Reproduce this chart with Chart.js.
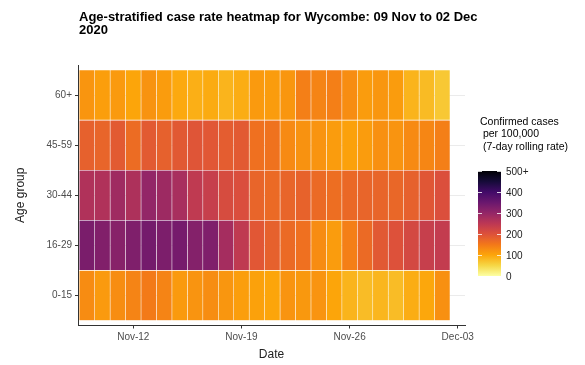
<!DOCTYPE html>
<html lang="en">
<head>
<meta charset="UTF-8">
<title>Age-stratified case rate heatmap for Wycombe</title>
<style>
    html, body { margin: 0; padding: 0; background: #fff; }
    #wrap { width: 585px; height: 365px; }
</style>
<script src="https://cdn.jsdelivr.net/npm/chart.js"></script>
</head>
<body>
<div id="wrap"><canvas id="heatmap" width="585" height="365"></canvas></div>
<script>
// ---- data ----
const dates = [
    '2020-11-09', '2020-11-10', '2020-11-11', '2020-11-12', '2020-11-13', '2020-11-14',
    '2020-11-15', '2020-11-16', '2020-11-17', '2020-11-18', '2020-11-19', '2020-11-20',
    '2020-11-21', '2020-11-22', '2020-11-23', '2020-11-24', '2020-11-25', '2020-11-26',
    '2020-11-27', '2020-11-28', '2020-11-29', '2020-11-30', '2020-12-01', '2020-12-02'
];
const ageGroups = ['0-15', '16-29', '30-44', '45-59', '60+'];

// 7-day rolling case rate per 100,000, one value per date
const rate0to15  = [128, 112, 127, 137, 148, 137, 112, 119, 127, 117, 108, 105, 100, 119, 115, 119, 100, 85, 77, 83, 77, 92, 98, 123];
const rate16to29 = [330, 322, 315, 325, 338, 328, 335, 318, 325, 278, 245, 192, 180, 168, 160, 128, 110, 142, 168, 190, 200, 215, 235, 240];
const rate30to44 = [265, 265, 285, 268, 300, 288, 275, 245, 235, 210, 205, 175, 168, 175, 178, 168, 163, 170, 175, 175, 172, 180, 193, 203];
const rate45to59 = [180, 175, 188, 165, 188, 180, 190, 195, 192, 185, 188, 160, 158, 130, 121, 119, 110, 105, 110, 123, 119, 130, 134, 142];
const rate60plus = [118, 108, 112, 100, 120, 110, 96, 90, 94, 85, 92, 112, 110, 117, 142, 137, 142, 127, 110, 117, 110, 85, 78, 65];
const ratesByGroup = [rate0to15, rate16to29, rate30to44, rate45to59, rate60plus];

const tickDates  = ['2020-11-12', '2020-11-19', '2020-11-26', '2020-12-03'];
const tickLabels = ['Nov-12', 'Nov-19', 'Nov-26', 'Dec-03'];
const legendBreaks = [0, 100, 200, 300, 400, 500];
const legendLabels = ['0', '100', '200', '300', '400', '500+'];
const rateMax = 500;

const titleLines = ['Age-stratified case rate heatmap for Wycombe: 09 Nov to 02 Dec', '2020'];
const legendTitle = ['Confirmed cases', ' per 100,000', ' (7-day rolling rate)'];

// ---- colours (inferno, reversed: low = yellow, high = black) ----
const inferno = ['#000004', '#160b39', '#420a68', '#6a176e', '#932667', '#bc3754',
                 '#dd513a', '#f37819', '#fca50a', '#f6d746', '#fcffa4'];

function hexToRgb(h) {
    return [parseInt(h.slice(1, 3), 16), parseInt(h.slice(3, 5), 16), parseInt(h.slice(5, 7), 16)];
}

function rateColour(v) {
    const t = 1 - Math.min(Math.max(v, 0), rateMax) / rateMax;
    const pos = t * (inferno.length - 1);
    const i = Math.min(Math.floor(pos), inferno.length - 2);
    const f = pos - i;
    const a = hexToRgb(inferno[i]), b = hexToRgb(inferno[i + 1]);
    const c = a.map((x, k) => Math.round(x + (b[k] - x) * f));
    return 'rgb(' + c.join(',') + ')';
}

function dayIndex(d) {
    return Math.round((Date.parse(d) - Date.parse(dates[0])) / 864e5);
}

const FONT = '"Liberation Sans", Arial, sans-serif';

// one floating-bar dataset per day, tiles across the age groups
const datasets = dates.map(d => {
    const i = dayIndex(d);
    return {
        data: ageGroups.map((g, j) => ({ x: [i - 0.5, i + 0.5], y: j, v: ratesByGroup[j][i] })),
        backgroundColor: ctx => rateColour(ctx.raw ? ctx.raw.v : 0),
        borderColor: 'rgba(255,255,255,0.28)',
        borderWidth: 0.6,
        borderSkipped: false,
        grouped: false,
        categoryPercentage: 1,
        barPercentage: 1
    };
});

// title drawn above the panel, left-aligned with the plot area
const titlePlugin = {
    id: 'heatTitle',
    afterDraw(chart) {
        const { ctx, chartArea } = chart;
        ctx.save();
        ctx.font = 'bold 13px ' + FONT;
        ctx.fillStyle = '#000';
        ctx.textBaseline = 'middle';
        titleLines.forEach((t, i) => ctx.fillText(t, chartArea.left + 1, 17 + i * 13));
        ctx.restore();
    }
};

// continuous colour bar legend
const colourBarPlugin = {
    id: 'colourBar',
    afterDraw(chart) {
        const { ctx, chartArea } = chart;
        const x0 = chartArea.right + 13, w = 23;
        const top = 171, bottom = 276;
        const yFor = v => bottom - (v / rateMax) * (bottom - top);
        ctx.save();

        ctx.font = '10.5px ' + FONT;
        ctx.fillStyle = '#000';
        ctx.textBaseline = 'middle';
        legendTitle.forEach((t, i) => ctx.fillText(t, x0 + 2, 122 + i * 12.5));

        const grad = ctx.createLinearGradient(0, bottom, 0, top);
        for (let k = 0; k <= 20; k++) grad.addColorStop(k / 20, rateColour(k / 20 * rateMax));
        ctx.fillStyle = grad;
        ctx.fillRect(x0, top, w, bottom - top);

        ctx.strokeStyle = 'rgba(255,255,255,0.8)';
        ctx.lineWidth = 1;
        ctx.font = '10px ' + FONT;
        ctx.fillStyle = '#222';
        legendBreaks.forEach((b, i) => {
            const y = Math.round(yFor(b)) + 0.5;
            ctx.beginPath();
            ctx.moveTo(x0, y); ctx.lineTo(x0 + 4, y);
            ctx.moveTo(x0 + w - 4, y); ctx.lineTo(x0 + w, y);
            ctx.stroke();
            ctx.fillText(legendLabels[i], x0 + 28, yFor(b) + 1.5);
        });
        ctx.restore();
    }
};

new Chart(document.getElementById('heatmap'), {
    type: 'bar',
    data: { datasets: datasets },
    options: {
        indexAxis: 'y',
        responsive: false,
        animation: false,
        layout: { padding: { top: 65, right: 120, left: 0, bottom: 0 } },
        plugins: {
            legend: { display: false },
            tooltip: { enabled: false },
            title: { display: false }
        },
        scales: {
            x: {
                type: 'linear',
                offset: false,
                min: -0.58,
                max: 24.47,
                afterBuildTicks: scale => {
                    scale.ticks = tickDates.map(d => ({ value: dayIndex(d) }));
                },
                afterFit: scale => { scale.height = 39.5; },
                ticks: {
                    callback: (v, i) => tickLabels[i],
                    color: '#4d4d4d',
                    font: { family: FONT, size: 10 },
                    padding: 3,
                    maxRotation: 0
                },
                grid: { drawOnChartArea: false, drawTicks: true, tickLength: 3, tickColor: '#333' },
                border: { display: true, color: '#333', width: 1 },
                title: {
                    display: true,
                    text: 'Date',
                    color: '#222',
                    font: { family: FONT, size: 12 },
                    padding: { top: 0, bottom: 3 }
                }
            },
            y: {
                type: 'linear',
                offset: false,
                min: -0.6,
                max: 4.6,
                afterBuildTicks: scale => {
                    scale.ticks = ageGroups.map((g, j) => ({ value: j }));
                },
                afterFit: scale => { scale.width = 78; },
                ticks: {
                    callback: v => ageGroups[v],
                    color: '#4d4d4d',
                    font: { family: FONT, size: 10 },
                    padding: 3
                },
                grid: { offset: false, color: '#ebebeb', lineWidth: 1, drawTicks: true, tickLength: 3, tickColor: '#333' },
                border: { display: true, color: '#333', width: 1 },
                title: {
                    display: true,
                    text: 'Age group',
                    color: '#222',
                    font: { family: FONT, size: 12 },
                    padding: { top: 13, bottom: 0 }
                }
            }
        }
    },
    plugins: [titlePlugin, colourBarPlugin]
});
</script>
</body>
</html>
